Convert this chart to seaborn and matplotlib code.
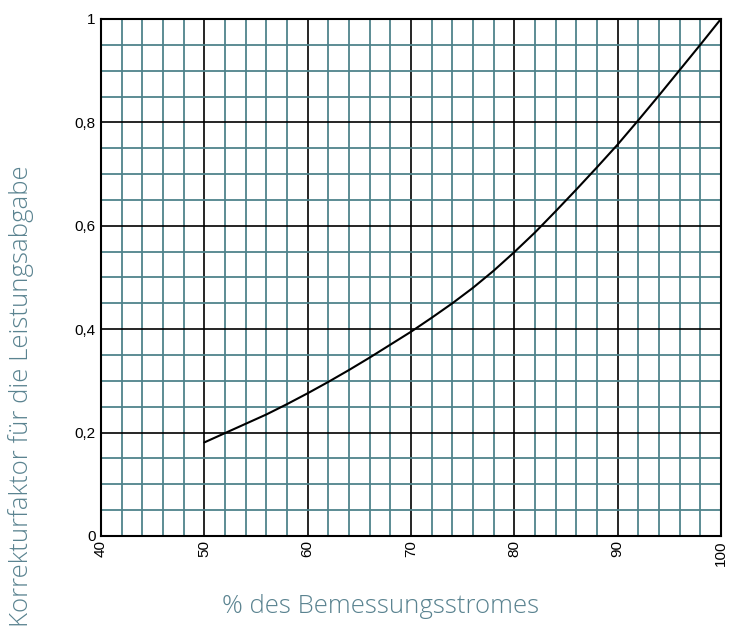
import numpy as np
import pandas as pd
import seaborn as sns
import matplotlib.pyplot as plt
from matplotlib.ticker import MultipleLocator, FuncFormatter

# Curve (percent of rated current vs. correction factor)
strom = [50, 52, 54, 56, 58, 60, 62, 64, 66, 68, 70, 72, 74, 76, 78, 80,
         82, 84, 86, 88, 90, 92, 94, 96, 98, 100]
faktor = [0.181, 0.199, 0.217, 0.235, 0.255, 0.276, 0.298, 0.321, 0.345, 0.370,
          0.395, 0.422, 0.450, 0.480, 0.513, 0.549, 0.587, 0.628, 0.670, 0.713,
          0.757, 0.804, 0.852, 0.901, 0.950, 1.000]

df = pd.DataFrame({'strom': strom, 'faktor': faktor})

sns.set_style('white')
plt.rcParams['font.family'] = ['Liberation Sans', 'DejaVu Sans']

fig = plt.figure(figsize=(7.31, 6.34), dpi=100)
ax = fig.add_axes([0.1382, 0.1546, 0.848, 0.8155])

teal = '#4f838b'
label_color = '#5a8390'

sns.lineplot(data=df, x='strom', y='faktor', color='black', linewidth=1.5, ax=ax, zorder=5)

ax.set_xlim(40, 100)
ax.set_ylim(0, 1)

ax.xaxis.set_major_locator(MultipleLocator(10))
ax.xaxis.set_minor_locator(MultipleLocator(2))
ax.yaxis.set_major_locator(MultipleLocator(0.2))
ax.yaxis.set_minor_locator(MultipleLocator(0.05))

ax.grid(which='minor', color=teal, linewidth=1.3, zorder=1)
ax.grid(which='major', color='black', linewidth=1.2, zorder=2)
ax.set_axisbelow(True)

for s in ax.spines.values():
    s.set_color('black')
    s.set_linewidth(1.5)
    s.set_visible(True)

# decimal comma on the y axis
ax.yaxis.set_major_formatter(FuncFormatter(lambda v, p: f'{v:.1f}'.replace('.', ',') if 0 < v < 1 else f'{v:.0f}'))
ax.tick_params(which='both', length=0, labelsize=11, colors='black')
ax.tick_params(axis='x', rotation=90, pad=3)
ax.tick_params(axis='y', pad=4)
for t in ax.get_xticklabels():
    t.set_va('top')

ax.set_xlabel('')
ax.set_ylabel('')

fig.text(0.52, 0.043, '% des Bemessungsstromes', ha='center', va='center',
         fontsize=18.5, fontweight='light', color=label_color, family=['Open Sans', 'DejaVu Sans'])
fig.text(0.029, 0.375, 'Korrekturfaktor für die Leistungsabgabe', ha='center', va='center',
         rotation=90, fontsize=18.5, fontweight='light', color=label_color, family=['Open Sans', 'DejaVu Sans'])

fig.savefig('out.png', dpi=100)
